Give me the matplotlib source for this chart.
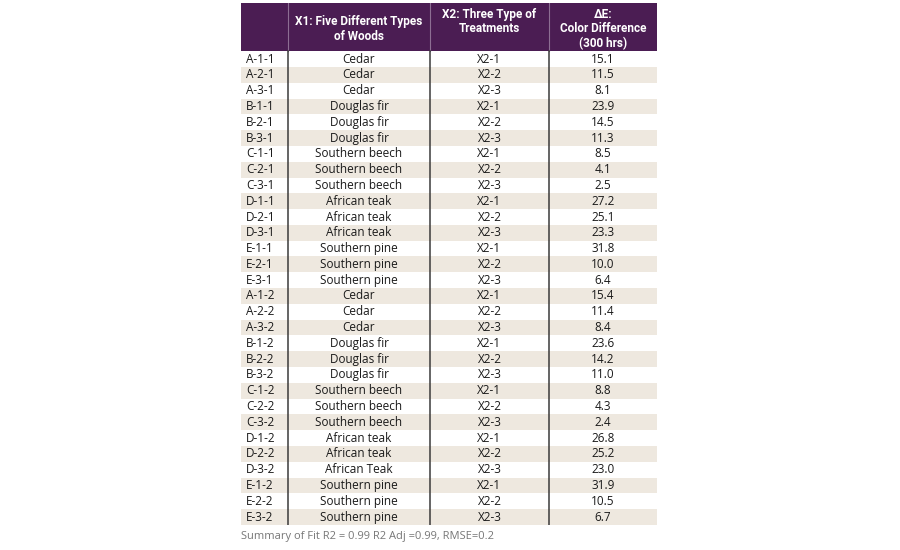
import matplotlib.pyplot as plt
from matplotlib.patches import Rectangle

samples = ['A-1-1', 'A-2-1', 'A-3-1', 'B-1-1', 'B-2-1', 'B-3-1', 'C-1-1', 'C-2-1', 'C-3-1',
           'D-1-1', 'D-2-1', 'D-3-1', 'E-1-1', 'E-2-1', 'E-3-1',
           'A-1-2', 'A-2-2', 'A-3-2', 'B-1-2', 'B-2-2', 'B-3-2', 'C-1-2', 'C-2-2', 'C-3-2',
           'D-1-2', 'D-2-2', 'D-3-2', 'E-1-2', 'E-2-2', 'E-3-2']
woods = ['Cedar', 'Cedar', 'Cedar', 'Douglas fir', 'Douglas fir', 'Douglas fir',
         'Southern beech', 'Southern beech', 'Southern beech',
         'African teak', 'African teak', 'African teak',
         'Southern pine', 'Southern pine', 'Southern pine',
         'Cedar', 'Cedar', 'Cedar', 'Douglas fir', 'Douglas fir', 'Douglas fir',
         'Southern beech', 'Southern beech', 'Southern beech',
         'African teak', 'African teak', 'African Teak',
         'Southern pine', 'Southern pine', 'Southern pine']
treatments = ['X2-1', 'X2-2', 'X2-3'] * 10
delta_e = ['15.1', '11.5', '8.1', '23.9', '14.5', '11.3', '8.5', '4.1', '2.5',
           '27.2', '25.1', '23.3', '31.8', '10.0', '6.4',
           '15.4', '11.4', '8.4', '23.6', '14.2', '11.0', '8.8', '4.3', '2.4',
           '26.8', '25.2', '23.0', '31.9', '10.5', '6.7']
headers = ['', 'X1: Five Different Types\nof Woods', 'X2: Three Type of\nTreatments',
           '\u0394E:\nColor Difference\n(300 hrs)']
footer = 'Summary of Fit R2 = 0.99 R2 Adj =0.99, RMSE=0.2'

col_edges = [0, 47, 189, 308, 416]
header_h = 3.05
purple = '#4b1d53'
beige = '#eee8df'

fig = plt.figure(figsize=(9, 5.5), dpi=100)
ax = fig.add_axes([241 / 900, 1 - 525 / 550, 416 / 900, 522 / 550])
ax.set_xlim(0, col_edges[-1])
ax.set_ylim(len(samples), -header_h)
ax.axis('off')

body_font = ['Open Sans', 'DejaVu Sans']
head_font = ['Roboto', 'DejaVu Sans']

# header
ax.add_patch(Rectangle((0, -header_h), col_edges[-1], header_h, color=purple, lw=0))
for j in range(1, 4):
    ax.plot([col_edges[j]] * 2, [-header_h, 0], color='#8d6e93', lw=0.8)
for j, h in enumerate(headers):
    if not h:
        continue
    xc = (col_edges[j] + col_edges[j + 1]) / 2
    if j == 2:
        ax.text(xc, -header_h + 0.3, h, ha='center', va='top', color='white',
                fontsize=8.5, fontweight='bold', family=head_font, linespacing=1.15)
    else:
        ax.text(xc, -header_h / 2 + 0.12, h, ha='center', va='center', color='white',
                fontsize=8.5, fontweight='bold', family=head_font, linespacing=1.15)

# body rows
for i in range(len(samples)):
    if i % 2 == 1:
        ax.add_patch(Rectangle((0, i), col_edges[-1], 1, color=beige, lw=0))
    y = i + 0.5
    ax.text(5, y, samples[i], ha='left', va='center', fontsize=8.5, family=body_font, color='#1a1a1a')
    for j, v in ((1, woods[i]), (2, treatments[i]), (3, delta_e[i])):
        ax.text((col_edges[j] + col_edges[j + 1]) / 2, y, v, ha='center', va='center',
                fontsize=8.5, family=body_font, color='#1a1a1a')

for j in range(1, 4):
    ax.plot([col_edges[j]] * 2, [0, len(samples)], color='#3a3a3a', lw=1.1)

fig.text(241 / 900, 1 - 536 / 550, footer, ha='left', va='center', fontsize=8,
         family=body_font, color='#777777')

fig.savefig('out.png', dpi=100, facecolor='white')
